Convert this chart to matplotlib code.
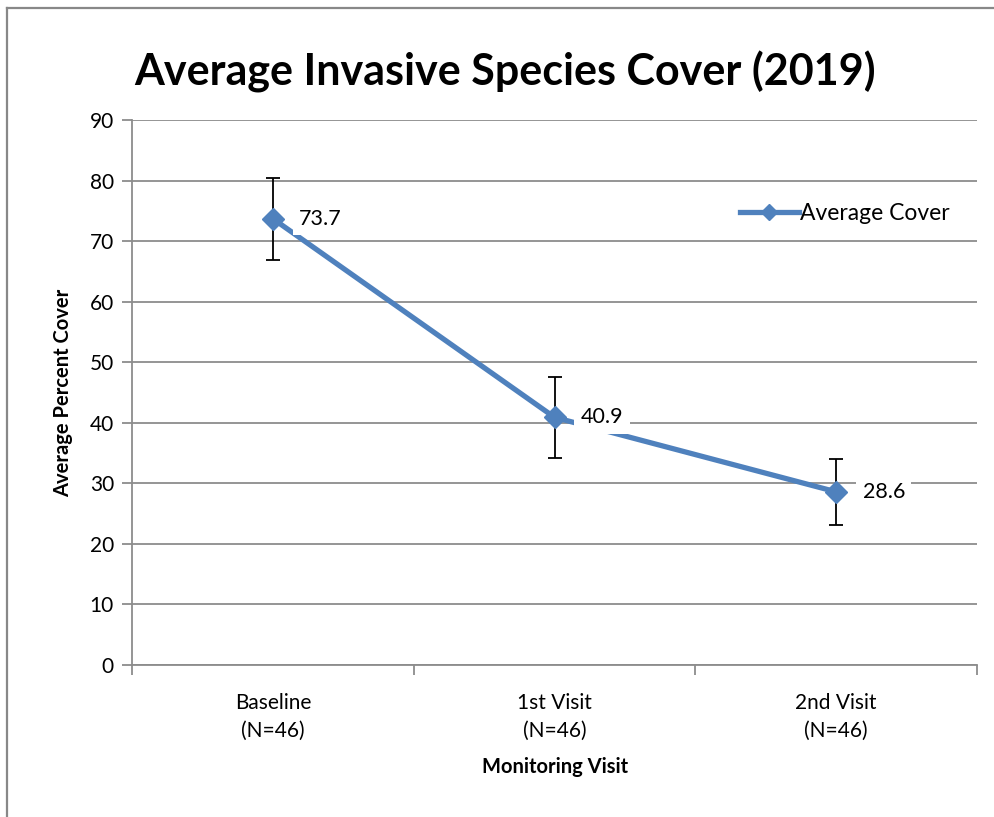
import matplotlib.pyplot as plt
import matplotlib.lines as mlines

plt.rcParams['font.family'] = ['Lato', 'DejaVu Sans']

# 数据
visits = ['Baseline\n(N=46)', '1st Visit\n(N=46)', '2nd Visit\n(N=46)']
avg_cover = [73.7, 40.9, 28.6]
err = [6.8, 6.7, 5.4]
yticks = [0, 10, 20, 30, 40, 50, 60, 70, 80, 90]

blue = '#4F81BD'
grid_c = '#8C8C8C'

fig = plt.figure(figsize=(9.95, 8.17), dpi=100)
ax = fig.add_axes([0.1327, 0.186, 0.8493, 0.6671])

x = list(range(len(visits)))
ax.plot(x, avg_cover, color=blue, lw=3.8, marker='D', ms=11,
        label='Average Cover', zorder=3)
ax.errorbar(x, avg_cover, yerr=err, fmt='none', ecolor='black',
            elinewidth=1.3, capsize=5, capthick=1.3, zorder=2)

# 数据标签
for xi, yi in zip(x, avg_cover):
    ax.annotate(f'{yi}', (xi, yi), xytext=(19, 0), textcoords='offset points',
                ha='left', va='center', fontsize=15.5,
                bbox=dict(boxstyle='square,pad=0.3', fc='white', ec='none'),
                zorder=4)

ax.set_xlim(-0.5, 2.5)
ax.set_ylim(0, 90)
ax.set_yticks(yticks)
ax.set_xticks(x)
ax.set_xticklabels(visits, fontsize=15, linespacing=1.5)
ax.set_xticks([-0.5, 0.5, 1.5, 2.5], minor=True)
ax.tick_params(axis='x', which='major', length=0, pad=20)
ax.tick_params(axis='x', which='minor', length=7, color=grid_c, width=1.3)
ax.tick_params(axis='y', labelsize=15, length=7, color=grid_c, width=1.3, pad=6)
ax.yaxis.grid(True, color=grid_c, lw=1.3)
ax.set_axisbelow(True)
for s in ['top', 'right']:
    ax.spines[s].set_visible(False)
for s in ['left', 'bottom']:
    ax.spines[s].set_color(grid_c)
    ax.spines[s].set_linewidth(1.3)

ax.set_xlabel('Monitoring Visit', fontsize=14.5, fontweight='bold', labelpad=12)
ax.set_ylabel('Average Percent Cover', fontsize=14.5, fontweight='bold', labelpad=12)
fig.text(0.508, 0.912, 'Average Invasive Species Cover (2019)', ha='center',
         va='center', fontsize=31, fontweight='bold')

ax.legend(loc='center left', bbox_to_anchor=(0.708, 0.829), frameon=False,
          fontsize=16.5, handlelength=2.6, handletextpad=0.05, borderaxespad=0,
          markerscale=0.75)

# 外框 (只看到左边和上边)
fig.add_artist(mlines.Line2D([7 / 995, 7 / 995], [0, 1 - 8 / 817],
                             transform=fig.transFigure, color='#888888', lw=1.6))
fig.add_artist(mlines.Line2D([7 / 995, 1], [1 - 8 / 817, 1 - 8 / 817],
                             transform=fig.transFigure, color='#888888', lw=1.6))

fig.savefig('out.png', dpi=100)
